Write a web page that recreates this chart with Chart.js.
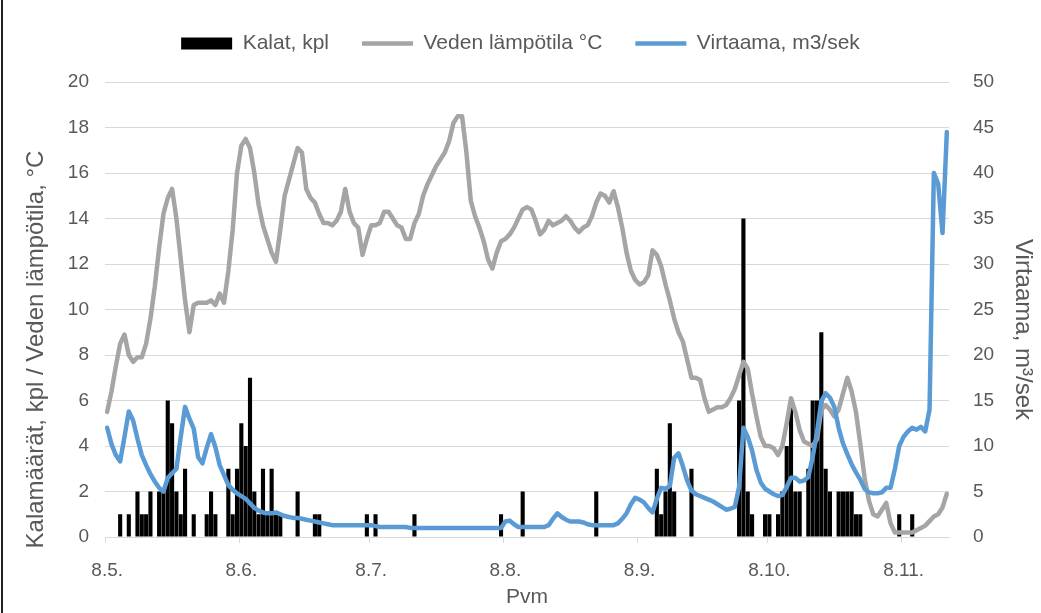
<!DOCTYPE html>
<html>
<head>
<meta charset="utf-8">
<script src="https://cdn.jsdelivr.net/npm/chart.js@4.4.1/dist/chart.umd.min.js"></script>
<style>
  html, body { margin: 0; padding: 0; background: #fff; }
  #wrap { position: relative; width: 1041px; height: 613px; }
  #c { display: block; }
  #edge { position: absolute; left: 1px; top: 0; width: 2px; height: 613px; background: #222; }
</style>
</head>
<body>
<div id="wrap">
  <canvas id="c" width="1041" height="613"></canvas>
  <div id="edge"></div>
</div>
<script>
// Dates (d.m.) from 8.5. to 18.11.
const dateLabels = [
  "8.5.","9.5.","10.5.","11.5.","12.5.","13.5.","14.5.","15.5.","16.5.","17.5.","18.5.","19.5.","20.5.","21.5.","22.5.","23.5.","24.5.","25.5.","26.5.","27.5.","28.5.","29.5.","30.5.","31.5.",
  "1.6.","2.6.","3.6.","4.6.","5.6.","6.6.","7.6.","8.6.","9.6.","10.6.","11.6.","12.6.","13.6.","14.6.","15.6.","16.6.","17.6.","18.6.","19.6.","20.6.","21.6.","22.6.","23.6.","24.6.","25.6.","26.6.","27.6.","28.6.","29.6.","30.6.",
  "1.7.","2.7.","3.7.","4.7.","5.7.","6.7.","7.7.","8.7.","9.7.","10.7.","11.7.","12.7.","13.7.","14.7.","15.7.","16.7.","17.7.","18.7.","19.7.","20.7.","21.7.","22.7.","23.7.","24.7.","25.7.","26.7.","27.7.","28.7.","29.7.","30.7.","31.7.",
  "1.8.","2.8.","3.8.","4.8.","5.8.","6.8.","7.8.","8.8.","9.8.","10.8.","11.8.","12.8.","13.8.","14.8.","15.8.","16.8.","17.8.","18.8.","19.8.","20.8.","21.8.","22.8.","23.8.","24.8.","25.8.","26.8.","27.8.","28.8.","29.8.","30.8.","31.8.",
  "1.9.","2.9.","3.9.","4.9.","5.9.","6.9.","7.9.","8.9.","9.9.","10.9.","11.9.","12.9.","13.9.","14.9.","15.9.","16.9.","17.9.","18.9.","19.9.","20.9.","21.9.","22.9.","23.9.","24.9.","25.9.","26.9.","27.9.","28.9.","29.9.","30.9.",
  "1.10.","2.10.","3.10.","4.10.","5.10.","6.10.","7.10.","8.10.","9.10.","10.10.","11.10.","12.10.","13.10.","14.10.","15.10.","16.10.","17.10.","18.10.","19.10.","20.10.","21.10.","22.10.","23.10.","24.10.","25.10.","26.10.","27.10.","28.10.","29.10.","30.10.","31.10.",
  "1.11.","2.11.","3.11.","4.11.","5.11.","6.11.","7.11.","8.11.","9.11.","10.11.","11.11.","12.11.","13.11.","14.11.","15.11.","16.11.","17.11.","18.11."
];

// Tick labels shown on the date axis
const xTickLabels = ["8.5.","8.6.","8.7.","8.8.","8.9.","8.10.","8.11."];

// Kalat, kpl (fish per day)
const fishCounts = [
  0,0,0,1,0,1,0,2,1,1,
  2,0,2,2,6,5,2,1,3,0,
  1,0,0,1,2,1,0,0,3,1,
  3,5,4,7,2,1,3,1,3,1,
  1,0,0,0,2,0,0,0,1,1,
  0,0,0,0,0,0,0,0,0,0,
  1,0,1,0,0,0,0,0,0,0,
  0,1,0,0,0,0,0,0,0,0,
  0,0,0,0,0,0,0,0,0,0,
  0,1,0,0,0,0,2,0,0,0,
  0,0,0,0,0,0,0,0,0,0,
  0,0,0,2,0,0,0,0,0,0,
  0,0,0,0,0,0,0,3,1,2,
  5,2,0,0,0,3,0,0,0,0,
  0,0,0,0,0,0,6,14,2,1,
  0,0,1,1,0,1,2,4,6,2,
  2,0,3,6,6,9,3,2,0,2,
  2,2,2,1,1,0,0,0,0,0,
  0,0,0,1,0,0,1,0,0,0,
  0,0,0,0,0
];

// Veden lämpötila °C
const waterTemp = [
  5.5,6.4,7.5,8.5,8.9,8.0,7.7,7.9,7.9,8.5,
  9.6,11.0,12.7,14.2,14.9,15.3,14.0,12.2,10.4,9.0,
  10.2,10.3,10.3,10.3,10.4,10.2,10.7,10.3,11.7,13.5,
  16.0,17.2,17.5,17.1,16.0,14.6,13.7,13.1,12.5,12.1,
  13.5,15.0,15.7,16.4,17.1,16.9,15.3,14.9,14.7,14.2,
  13.8,13.8,13.7,13.9,14.3,15.3,14.3,13.8,13.6,12.4,
  13.1,13.7,13.7,13.8,14.3,14.3,14.0,13.7,13.6,13.1,
  13.1,13.8,14.2,15.0,15.5,15.9,16.3,16.6,16.9,17.4,
  18.2,18.5,18.5,16.9,14.8,14.1,13.6,13.0,12.2,11.8,
  12.5,13.0,13.1,13.3,13.6,14.0,14.4,14.5,14.4,13.9,
  13.3,13.5,13.9,13.7,13.8,13.9,14.1,13.9,13.6,13.4,
  13.6,13.7,14.1,14.7,15.1,15.0,14.7,15.2,14.5,13.6,
  12.5,11.7,11.3,11.1,11.2,11.5,12.6,12.4,11.9,11.1,
  10.4,9.6,9.0,8.6,7.8,7.0,7.0,6.9,6.1,5.5,
  5.6,5.7,5.7,5.8,6.1,6.5,7.1,7.7,7.4,6.3,
  5.3,4.4,4.0,4.0,3.9,3.6,4.0,5.0,6.1,5.5,
  4.7,4.2,4.1,4.0,4.3,5.6,5.8,5.6,5.3,5.6,
  6.3,7.0,6.4,5.5,4.1,2.6,1.6,1.0,0.9,1.2,
  1.5,0.6,0.2,0.2,0.2,0.2,0.2,0.3,0.4,0.5,
  0.7,0.9,1.0,1.3,1.9
];

// Virtaama, m3/sek
const flowRate = [
  12.0,10.2,9.0,8.3,11.0,13.8,12.8,10.8,9.0,7.9,
  6.9,6.1,5.4,5.0,6.5,7.0,7.5,11.0,14.3,13.0,
  11.9,8.8,8.1,9.8,11.3,9.9,7.9,6.8,5.7,5.2,
  4.8,4.5,4.2,3.7,3.2,2.9,2.7,2.6,2.6,2.7,
  2.5,2.3,2.2,2.1,2.1,2.0,1.9,1.8,1.7,1.6,
  1.5,1.4,1.3,1.3,1.3,1.3,1.3,1.3,1.3,1.3,
  1.3,1.3,1.2,1.1,1.1,1.1,1.1,1.1,1.1,1.1,
  1.0,1.0,1.0,1.0,1.0,1.0,1.0,1.0,1.0,1.0,
  1.0,1.0,1.0,1.0,1.0,1.0,1.0,1.0,1.0,1.0,
  1.0,1.0,1.7,1.8,1.4,1.1,1.1,1.1,1.1,1.1,
  1.1,1.1,1.3,2.0,2.6,2.2,1.9,1.7,1.7,1.7,
  1.6,1.4,1.3,1.3,1.3,1.3,1.3,1.3,1.5,2.0,
  2.6,3.6,4.3,4.1,3.8,3.2,2.7,4.2,5.4,5.3,
  5.6,8.7,9.2,7.8,6.2,5.1,4.7,4.5,4.3,4.1,
  3.9,3.6,3.3,3.0,3.1,3.3,5.5,12.0,11.0,9.5,
  7.4,6.0,5.3,5.0,4.7,4.5,4.6,5.5,6.5,6.5,
  6.1,6.2,6.6,8.8,11.5,14.9,15.8,15.3,14.3,12.0,
  10.3,9.1,8.0,7.1,6.3,5.3,4.9,4.8,4.8,4.9,
  5.4,5.4,7.5,10.0,11.0,11.6,12.0,11.8,12.1,11.6,
  14.0,40.0,38.8,33.4,44.5
];

const FONT = "'Liberation Sans', Arial, sans-serif";
const TEXT = '#595959';
const GRID = '#d9d9d9';
const NB = '\u00a0';

const legendSizer = {
  id: 'legendSizer',
  beforeInit(chart) {
    const lg = chart.legend;
    if (lg) {
      const origFit = lg.fit.bind(lg);
      lg.fit = function () { origFit(); this.height = 82; };
    }
  }
};

new Chart(document.getElementById('c'), {
  data: {
    labels: dateLabels,
    datasets: [
      {
        type: 'bar', label: 'Kalat, kpl', data: fishCounts,
        backgroundColor: '#000000', borderWidth: 0,
        barPercentage: 0.95, categoryPercentage: 1.0,
        yAxisID: 'y', order: 3, pointStyle: 'rect'
      },
      {
        type: 'line', label: 'Veden lämpötila °C', data: waterTemp,
        borderColor: '#a5a5a5', backgroundColor: '#a5a5a5', borderWidth: 4.5,
        pointRadius: 0, tension: 0, yAxisID: 'y', order: 2, pointStyle: 'line',
        borderJoinStyle: 'round', borderCapStyle: 'round'
      },
      {
        type: 'line', label: 'Virtaama, m3/sek', data: flowRate,
        borderColor: '#5b9bd5', backgroundColor: '#5b9bd5', borderWidth: 4.5,
        pointRadius: 0, tension: 0, yAxisID: 'y2', order: 1, pointStyle: 'line',
        borderJoinStyle: 'round', borderCapStyle: 'round'
      }
    ]
  },
  options: {
    responsive: false,
    animation: false,
    devicePixelRatio: 1,
    layout: { padding: { top: 0, bottom: 0, left: 0, right: 0 } },
    plugins: {
      tooltip: { enabled: false },
      legend: {
        position: 'top',
        labels: {
          usePointStyle: true, pointStyleWidth: 51, boxHeight: 12, boxWidth: 51,
          padding: 33, color: TEXT, font: { family: FONT, size: 21 },
          sort: (a, b) => a.datasetIndex - b.datasetIndex
        }
      }
    },
    scales: {
      x: {
        type: 'category', offset: true,
        grid: {
          offset: true, drawOnChartArea: false, drawTicks: true, tickLength: 6,
          color: (ctx) => {
            const lbl = dateLabels[ctx.index];
            return xTickLabels.includes(lbl) ? GRID : 'rgba(0,0,0,0)';
          }
        },
        border: { display: true, color: GRID },
        ticks: {
          autoSkip: false, maxRotation: 0, minRotation: 0, padding: 16,
          color: TEXT, font: { family: FONT, size: 19 },
          callback: function (v, i) {
            const lbl = dateLabels[i];
            return xTickLabels.includes(lbl) ? lbl : '';
          }
        },
        title: { display: true, text: 'Pvm', color: TEXT, font: { family: FONT, size: 21 }, padding: { top: 0, bottom: 3 } },
        afterFit(s) { s.height = 76; }
      },
      y: {
        position: 'left', min: 0, max: 20,
        ticks: { stepSize: 2, padding: 16, color: TEXT, font: { family: FONT, size: 19 } },
        grid: { color: GRID, drawTicks: false, lineWidth: 1 },
        border: { display: false },
        title: { display: true, text: 'Kalamäärät, kpl / Veden lämpötila, °C' + NB.repeat(12), color: TEXT, font: { family: FONT, size: 24 }, padding: { top: 22, bottom: 0 } },
        afterFit(s) { s.width = 105; }
      },
      y2: {
        position: 'right', min: 0, max: 50,
        ticks: { stepSize: 5, padding: 24, color: TEXT, font: { family: FONT, size: 19 } },
        grid: { drawOnChartArea: false, drawTicks: false },
        border: { display: false },
        title: { display: true, text: NB.repeat(6) + 'Virtaama, m³/sek', color: TEXT, font: { family: FONT, size: 24 }, padding: { top: 4, bottom: 0 } },
        afterFit(s) { s.width = 92; }
      }
    }
  },
  plugins: [legendSizer]
});
</script>
</body>
</html>
